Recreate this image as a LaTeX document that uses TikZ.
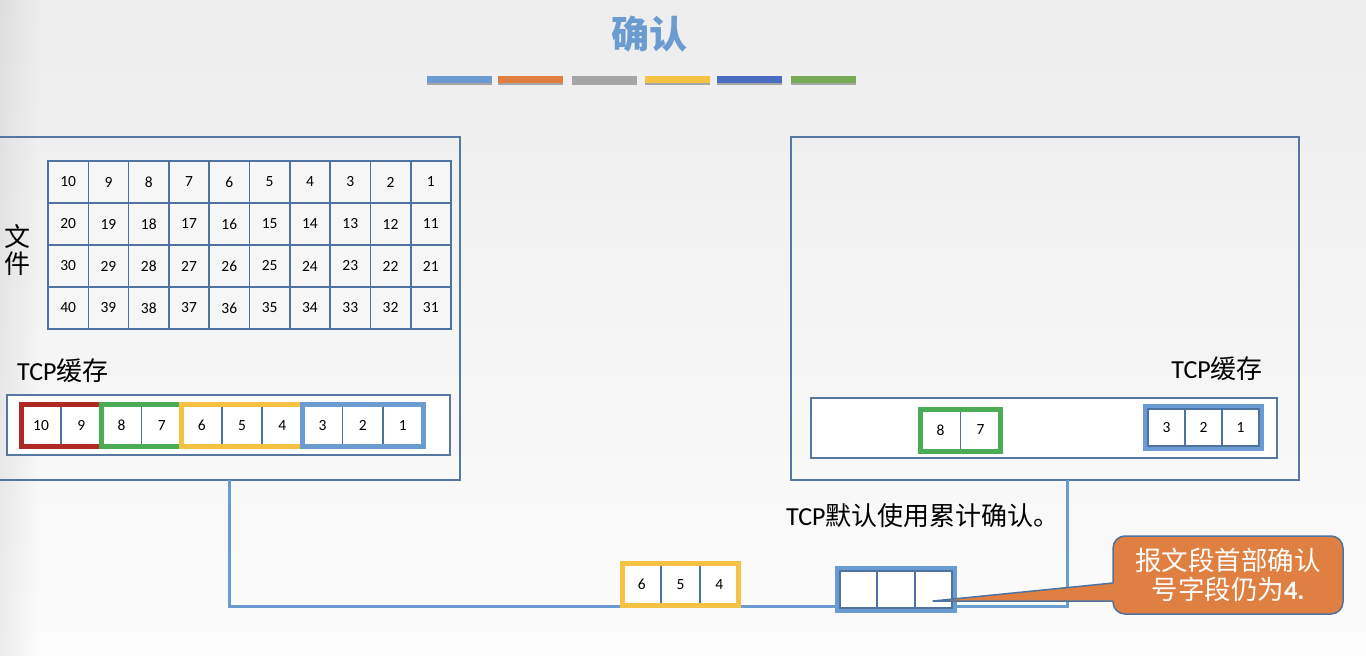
\documentclass[tikz,border=0pt]{standalone}
\usepackage{fontspec}
\setmainfont{Carlito}
\newfontfamily\cjk{Noto Sans CJK SC}
\usetikzlibrary{shadows,fadings}

\definecolor{bgtop}{HTML}{EDEDED}
\definecolor{bgbot}{HTML}{FCFCFC}
\definecolor{frameblue}{HTML}{5677A2}
\definecolor{cellblue}{HTML}{4F73A0}
\definecolor{cellfill}{HTML}{F6F6F6}
\definecolor{lightblue}{HTML}{6A9BD1}
\definecolor{segorange}{HTML}{E07F42}
\definecolor{seggray}{HTML}{A5A5A5}
\definecolor{segyellow}{HTML}{F5C243}
\definecolor{segdarkblue}{HTML}{4A6EC1}
\definecolor{seggreen}{HTML}{78A955}
\definecolor{grpred}{HTML}{AE2A22}
\definecolor{grpgreen}{HTML}{4CAB55}

\newcommand\cellfont{\fontsize{15.5}{15.5}\selectfont}
\newcommand\labelfont{\fontsize{26}{26}\selectfont}

\begin{document}
\begin{tikzpicture}[x=1pt,y=-1pt,
  host/.style={draw=frameblue, line width=1.5pt, inner sep=0pt, outer sep=0pt},
  buffer/.style={draw=frameblue, line width=1.5pt, fill=white, inner sep=0pt, outer sep=0pt},
  filecell/.style={draw=cellblue, line width=1.6pt, fill=cellfill, minimum width=40.3pt,
    minimum height=42pt, inner sep=0pt, outer sep=0pt, font=\cellfont},
  bufcell/.style={draw=cellblue, line width=1.5pt, fill=white, inner sep=0pt,
    outer sep=0pt, font=\cellfont},
  grpframe/.style={line width=5pt},
  bar/.style={minimum width=65pt, minimum height=7pt, inner sep=0pt,
    drop shadow={shadow xshift=0pt, shadow yshift=-2pt, opacity=0.3, fill=black}},
  caption/.style={font=\labelfont, inner sep=0pt}
]
\useasboundingbox (0,0) rectangle (1366,656);

% background
\fill[top color=bgtop, bottom color=bgbot] (0,0) rectangle (1366,656);
\fill[black, opacity=0.06, path fading=east] (0,0) rectangle (40,656);

% title and colour bars
\node[text=lightblue, font=\cjk\bfseries\fontsize{38}{38}\selectfont, inner sep=0pt] (title) at (649,34) {确认};
\node[bar, fill=lightblue]   (bar1) at (459.5,79.5) {};
\node[bar, fill=segorange]   (bar2) at (530.5,79.5) {};
\node[bar, fill=seggray]     (bar3) at (604.5,79.5) {};
\node[bar, fill=segyellow]   (bar4) at (677.5,79.5) {};
\node[bar, fill=segdarkblue] (bar5) at (749.5,79.5) {};
\node[bar, fill=seggreen]    (bar6) at (823.5,79.5) {};

% the two hosts
\node[host, minimum width=465pt, minimum height=343pt] (hostA) at (227.5,308.5) {};
\node[host, minimum width=508pt, minimum height=343pt] (hostB) at (1045,308.5) {};

% link between the hosts
\coordinate (linkA) at (229,606);
\coordinate (linkB) at (1067,606);
\draw[lightblue, line width=3pt] (hostA.south -| linkA) -- (linkA) -- (linkB) -- (hostB.south -| linkB);

% file to be sent
\node[caption, font=\cjk\fontsize{26}{27}\selectfont, align=center] (filelabel) at (18,250) {文\\件};
\foreach \r in {0,...,3}
  \foreach \c in {0,...,9} {
    \pgfmathtruncatemacro\n{\r*10+10-\c}
    \node[filecell] (f\n) at (68.15+40.3*\c, 182+42*\r) {\n};
  }

% sender buffer
\node[caption, anchor=west] (bufAlabel) at (17,371) {TCP{\cjk 缓存}};
\node[buffer, minimum width=443pt, minimum height=60pt] (bufA) at (228.5,425) {};
\foreach \i in {0,...,9} {
  \pgfmathtruncatemacro\n{10-\i}
  \node[bufcell, minimum width=40.2pt, minimum height=42pt] (a\n) at (41.1+40.2*\i, 425.5) {\n};
}
\draw[grpframe, grpred]    (a10.north west) rectangle (a9.south east);
\draw[grpframe, grpgreen]  (a8.north west) rectangle (a7.south east);
\draw[grpframe, segyellow] (a6.north west) rectangle (a4.south east);
\draw[grpframe, lightblue] (a3.north west) rectangle (a1.south east);

% receiver buffer
\node[caption, anchor=east] (bufBlabel) at (1263,369) {TCP{\cjk 缓存}};
\node[buffer, minimum width=466pt, minimum height=60pt] (bufB) at (1044,428) {};
\node[bufcell, minimum width=40pt, minimum height=42pt] (b8) at (940.5,430) {8};
\node[bufcell, minimum width=40pt, minimum height=42pt] (b7) at (980.5,430) {7};
\draw[grpframe, grpgreen] (b8.north west) rectangle (b7.south east);
\draw[grpframe, lightblue] (1145.5,406.5) rectangle (1261.5,448.5);
\node[bufcell, line width=2pt, minimum width=37pt, minimum height=37pt] (b3) at (1166.5,427.5) {3};
\node[bufcell, line width=2pt, minimum width=37pt, minimum height=37pt] (b2) at (1203.5,427.5) {2};
\node[bufcell, line width=2pt, minimum width=37pt, minimum height=37pt] (b1) at (1240.5,427.5) {1};

% data segment in transit
\node[bufcell, minimum width=38.67pt, minimum height=42pt] (s6) at (641.8,584.5) {6};
\node[bufcell, minimum width=38.67pt, minimum height=42pt] (s5) at (680.5,584.5) {5};
\node[bufcell, minimum width=38.67pt, minimum height=42pt] (s4) at (719.2,584.5) {4};
\draw[grpframe, segyellow] (s6.north west) rectangle (s4.south east);

% acknowledgement segment
\draw[grpframe, lightblue] (837.5,568.5) rectangle (954.5,610.5);
\node[bufcell, line width=2pt, minimum width=37.33pt, minimum height=37pt] (k1) at (858.7,589.5) {};
\node[bufcell, line width=2pt, minimum width=37.33pt, minimum height=37pt] (k2) at (896,589.5) {};
\node[bufcell, line width=2pt, minimum width=37.33pt, minimum height=37pt] (k3) at (933.3,589.5) {};

\node[caption, anchor=west] (note) at (786,516) {TCP{\cjk 默认使用累计确认。}};

% callout: rounded box plus a wedge pointing into the acknowledgement
\coordinate (tip) at (933,601);
\node[draw=cellblue, line width=1.5pt, fill=segorange, rounded corners=12pt,
  minimum width=230pt, minimum height=78pt, inner sep=0pt, outer sep=0pt,
  text=white, font=\cjk\fontsize{26.5}{29}\selectfont, align=center]
  (callout) at (1228,575) {报文段首部确认\\号字段仍为{\rmfamily\bfseries 4.}};
\fill[segorange] (tip) -- (callout.west |- 0,583) -- ([xshift=4pt]callout.west |- 0,583)
  -- ([xshift=4pt]callout.west |- 0,601) -- (callout.west |- 0,601) -- cycle;
\draw[cellblue, line width=1.5pt, line join=round]
  (callout.west |- 0,583) -- (tip) -- (callout.west |- 0,601);
\end{tikzpicture}
\end{document}
